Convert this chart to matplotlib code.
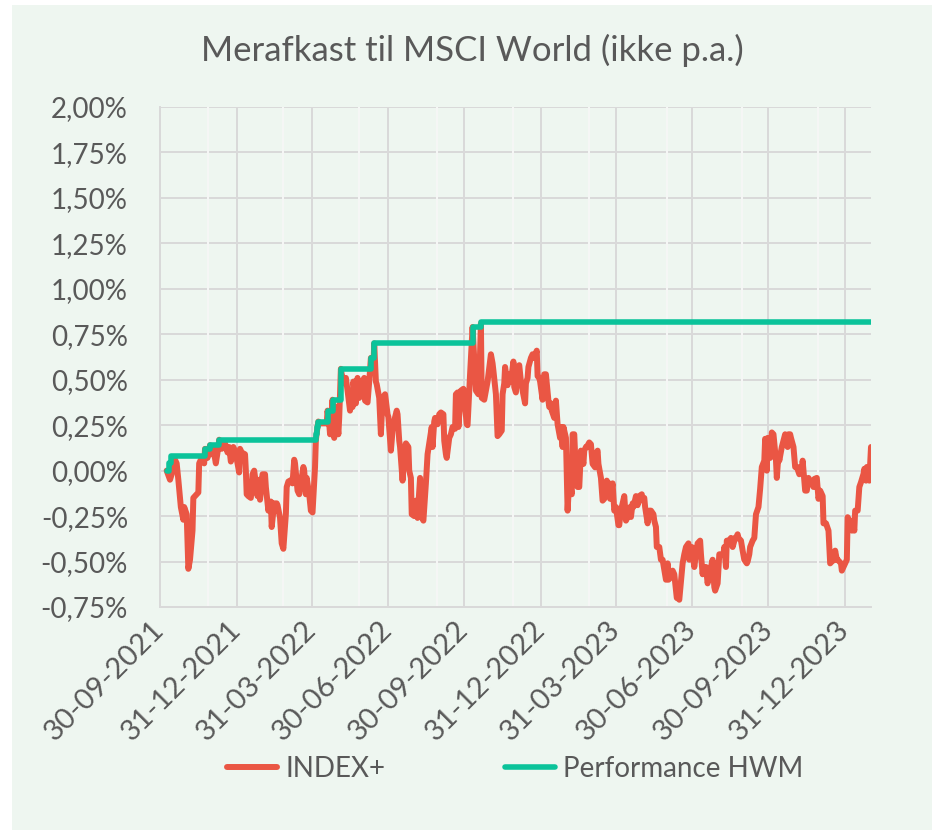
import matplotlib
matplotlib.use("Agg")
import matplotlib.pyplot as plt
import matplotlib.dates as mdates
from matplotlib.patches import Rectangle
from matplotlib.ticker import FuncFormatter, MultipleLocator
import pandas as pd

# ---------------- data (percent) ----------------
idx_dates_2021 = ["2021-10-08","2021-10-12","2021-10-14","2021-10-18","2021-10-20","2021-10-22","2021-10-25","2021-10-28",
    "2021-10-29","2021-11-01","2021-11-03","2021-11-05","2021-11-08","2021-11-09","2021-11-11","2021-11-15","2021-11-16",
    "2021-11-18","2021-11-22","2021-11-23","2021-11-26","2021-11-29","2021-11-30","2021-12-03","2021-12-06","2021-12-09",
    "2021-12-10","2021-12-13","2021-12-15","2021-12-17","2021-12-20","2021-12-22","2021-12-24","2021-12-27","2021-12-30"]
idx_vals_2021 = [0.00,-0.05,-0.02,0.06,0.04,-0.05,-0.20,-0.27,
    -0.20,-0.24,-0.54,-0.49,-0.33,-0.15,-0.14,-0.12,0.04,
    0.06,0.04,0.12,0.07,0.14,0.09,0.12,0.04,0.13,
    0.17,0.12,0.14,0.15,0.10,0.13,0.05,0.13,0.09]

idx_dates_2022 = ["2022-01-03","2022-01-04","2022-01-06","2022-01-10","2022-01-11","2022-01-12","2022-01-14","2022-01-17",
    "2022-01-19","2022-01-21","2022-01-25","2022-01-27","2022-01-28","2022-01-31","2022-02-03","2022-02-04","2022-02-07",
    "2022-02-08","2022-02-10","2022-02-11","2022-02-14","2022-02-17","2022-02-18","2022-02-21","2022-02-23","2022-02-25",
    "2022-02-28","2022-03-01","2022-03-03","2022-03-07","2022-03-08","2022-03-10","2022-03-11","2022-03-14","2022-03-16",
    "2022-03-18","2022-03-21","2022-03-22","2022-03-24","2022-03-25","2022-03-28","2022-03-30","2022-04-01","2022-04-04",
    "2022-04-05","2022-04-07","2022-04-08","2022-04-11","2022-04-13","2022-04-18","2022-04-19","2022-04-21","2022-04-22",
    "2022-04-25","2022-04-27","2022-04-29","2022-05-02","2022-05-03","2022-05-05","2022-05-06","2022-05-09","2022-05-11",
    "2022-05-13","2022-05-16","2022-05-17","2022-05-19","2022-05-20","2022-05-23","2022-05-25","2022-05-27","2022-05-30",
    "2022-05-31","2022-06-02","2022-06-03","2022-06-06","2022-06-08","2022-06-10","2022-06-13","2022-06-14","2022-06-16",
    "2022-06-17","2022-06-20","2022-06-22","2022-06-24","2022-06-27","2022-06-28","2022-06-30","2022-07-01","2022-07-04",
    "2022-07-06","2022-07-08","2022-07-11","2022-07-12","2022-07-14","2022-07-15","2022-07-18","2022-07-20","2022-07-22",
    "2022-07-25","2022-07-26","2022-07-28","2022-07-29","2022-08-01","2022-08-03","2022-08-05","2022-08-08","2022-08-09",
    "2022-08-11","2022-08-12","2022-08-15","2022-08-17","2022-08-19","2022-08-22","2022-08-23","2022-08-25","2022-08-26",
    "2022-08-29","2022-08-31","2022-09-02","2022-09-05","2022-09-06","2022-09-08","2022-09-09","2022-09-12","2022-09-14",
    "2022-09-16","2022-09-19","2022-09-20","2022-09-22","2022-09-23","2022-09-26","2022-09-29","2022-10-03","2022-10-04",
    "2022-10-06","2022-10-07","2022-10-10","2022-10-12","2022-10-14","2022-10-17","2022-10-18","2022-10-20","2022-10-21",
    "2022-10-24","2022-10-26","2022-10-28","2022-10-31","2022-11-01","2022-11-03","2022-11-04","2022-11-07","2022-11-09",
    "2022-11-11","2022-11-14","2022-11-15","2022-11-17","2022-11-18","2022-11-21","2022-11-23","2022-11-25","2022-11-28",
    "2022-11-29","2022-12-01","2022-12-02","2022-12-05","2022-12-07","2022-12-09","2022-12-12","2022-12-13","2022-12-15",
    "2022-12-16","2022-12-19","2022-12-21","2022-12-23","2022-12-26","2022-12-27","2022-12-29","2022-12-30"]
idx_vals_2022 = [-0.01,0.12,0.10,0.09,0.00,-0.13,-0.14,-0.15,
    -0.02,0.00,-0.14,-0.05,-0.16,-0.02,-0.02,-0.09,-0.22,
    -0.18,-0.17,-0.31,-0.18,-0.18,-0.19,-0.26,-0.40,-0.43,
    -0.24,-0.09,-0.06,-0.05,-0.07,0.06,0.04,-0.11,-0.13,
    -0.07,0.02,0.00,-0.13,-0.04,-0.13,-0.22,-0.23,0.02,
    0.17,0.24,0.27,0.26,0.26,0.26,0.33,0.26,0.20,
    0.39,0.18,0.35,0.20,0.29,0.56,0.53,0.48,0.51,
    0.44,0.33,0.40,0.35,0.49,0.37,0.51,0.40,0.42,
    0.49,0.51,0.385,0.375,0.49,0.62,0.57,0.70,0.49,
    0.475,0.40,0.20,0.40,0.42,0.385,0.31,0.295,0.11,
    0.22,0.275,0.33,0.31,0.165,0.13,-0.055,0.09,0.15,
    0.13,0.00,-0.04,-0.24,-0.25,-0.165,-0.26,-0.04,-0.24,
    -0.265,-0.275,-0.07,0.09,0.15,0.24,0.13,0.27,0.29,
    0.255,0.31,0.32,0.31,0.165,0.09,0.07,0.18,0.20,
    0.24,0.23,0.42,0.43,0.24,0.44,0.45,0.255,0.25,
    0.44,0.53,0.79,0.62,0.44,0.42,0.49,0.81,0.40,
    0.39,0.44,0.49,0.60,0.64,0.59,0.55,0.42,0.19,
    0.20,0.22,0.42,0.48,0.57,0.47,0.53,0.49,0.60,
    0.46,0.43,0.56,0.58,0.49,0.44,0.37,0.48,0.51,
    0.57,0.62,0.64,0.62,0.66,0.52,0.51,0.49]

idx_dates_2023 = ["2023-01-02","2023-01-04","2023-01-06","2023-01-09","2023-01-10","2023-01-12","2023-01-13","2023-01-16",
    "2023-01-18","2023-01-20","2023-01-23","2023-01-24","2023-01-26","2023-01-27","2023-01-30","2023-02-01","2023-02-03",
    "2023-02-06","2023-02-07","2023-02-09","2023-02-10","2023-02-13","2023-02-15","2023-02-17","2023-02-20","2023-02-21",
    "2023-02-23","2023-02-24","2023-02-27","2023-03-01","2023-03-03","2023-03-06","2023-03-07","2023-03-09","2023-03-10",
    "2023-03-13","2023-03-15","2023-03-17","2023-03-20","2023-03-21","2023-03-23","2023-03-24","2023-03-27","2023-03-29",
    "2023-03-31","2023-04-03","2023-04-04","2023-04-06","2023-04-07","2023-04-10","2023-04-12","2023-04-14","2023-04-17",
    "2023-04-18","2023-04-20","2023-04-21","2023-04-24","2023-04-26","2023-04-28","2023-05-01","2023-05-02","2023-05-04",
    "2023-05-05","2023-05-08","2023-05-10","2023-05-12","2023-05-15","2023-05-16","2023-05-18","2023-05-19","2023-05-22",
    "2023-05-24","2023-05-26","2023-05-30","2023-06-01","2023-06-02","2023-06-05","2023-06-07","2023-06-09","2023-06-12",
    "2023-06-13","2023-06-15","2023-06-16","2023-06-19","2023-06-21","2023-06-23","2023-06-26","2023-06-27","2023-06-29",
    "2023-06-30","2023-07-03","2023-07-05","2023-07-07","2023-07-10","2023-07-11","2023-07-13","2023-07-14","2023-07-17",
    "2023-07-19","2023-07-21","2023-07-24","2023-07-25","2023-07-27","2023-07-28","2023-07-31","2023-08-02","2023-08-04",
    "2023-08-07","2023-08-08","2023-08-10","2023-08-11","2023-08-14","2023-08-16","2023-08-18","2023-08-21","2023-08-22",
    "2023-08-24","2023-08-25","2023-08-28","2023-08-30","2023-09-01","2023-09-04","2023-09-05","2023-09-07","2023-09-08",
    "2023-09-11","2023-09-13","2023-09-15","2023-09-18","2023-09-20","2023-09-22","2023-09-25","2023-09-26","2023-09-28",
    "2023-09-29","2023-10-02","2023-10-04","2023-10-06","2023-10-09","2023-10-10","2023-10-12","2023-10-13","2023-10-16",
    "2023-10-18","2023-10-20","2023-10-23","2023-10-24","2023-10-26","2023-10-27","2023-10-30","2023-11-01","2023-11-03",
    "2023-11-06","2023-11-07","2023-11-09","2023-11-10","2023-11-13","2023-11-15","2023-11-17","2023-11-20","2023-11-21",
    "2023-11-23","2023-11-24","2023-11-27","2023-11-29","2023-12-01","2023-12-04","2023-12-05","2023-12-07","2023-12-08",
    "2023-12-11","2023-12-13","2023-12-15","2023-12-18","2023-12-19","2023-12-21","2023-12-22","2023-12-26","2023-12-27",
    "2023-12-29"]
idx_vals_2023 = [0.39,0.53,0.53,0.385,0.35,0.37,0.33,0.29,
    0.385,0.255,0.18,0.24,0.13,0.24,0.18,-0.22,-0.055,
    -0.13,0.20,0.20,0.09,-0.09,-0.09,0.11,0.037,0.11,
    0.13,0.13,0.155,0.145,0.037,0.018,0.09,0.11,0.037,
    -0.04,-0.165,-0.155,-0.055,-0.11,-0.07,-0.155,-0.07,-0.22,
    -0.20,-0.30,-0.30,-0.21,-0.20,-0.14,-0.275,-0.255,-0.20,
    -0.255,-0.18,-0.20,-0.14,-0.19,-0.14,-0.13,-0.165,-0.15,
    -0.20,-0.29,-0.22,-0.22,-0.24,-0.275,-0.31,-0.42,-0.42,
    -0.49,-0.49,-0.60,-0.51,-0.60,-0.586,-0.55,-0.57,-0.70,
    -0.70,-0.71,-0.66,-0.51,-0.46,-0.42,-0.40,-0.49,-0.46,
    -0.42,-0.53,-0.46,-0.40,-0.385,-0.46,-0.57,-0.53,-0.53,
    -0.62,-0.57,-0.51,-0.49,-0.64,-0.66,-0.62,-0.46,-0.46,
    -0.46,-0.42,-0.53,-0.385,-0.385,-0.37,-0.42,-0.37,-0.37,
    -0.35,-0.37,-0.385,-0.44,-0.49,-0.51,-0.50,-0.46,-0.42,
    -0.385,-0.37,-0.24,-0.20,-0.10,0.02,0.055,0.175,0.00,
    0.18,0.07,0.21,0.20,0.055,-0.04,0.09,0.055,0.13,
    0.165,0.20,0.13,0.20,0.20,0.18,0.13,0.02,0.02,
    -0.02,0.02,0.00,0.055,-0.11,-0.11,-0.04,-0.07,-0.064,
    -0.09,-0.046,-0.04,-0.155,-0.11,-0.14,-0.29,-0.29,-0.29,
    -0.33,-0.51,-0.50,-0.49,-0.44,-0.49,-0.49,-0.51,-0.55,
    -0.53]

idx_dates_2024 = ["2024-01-02","2024-01-03","2024-01-05","2024-01-08","2024-01-09","2024-01-11","2024-01-12","2024-01-15",
    "2024-01-17","2024-01-19","2024-01-22","2024-01-23","2024-01-25","2024-01-26","2024-01-29","2024-01-31"]
idx_vals_2024 = [-0.49,-0.256,-0.275,-0.33,-0.275,-0.33,-0.22,-0.22,
    -0.09,-0.064,-0.018,0.01,-0.055,0.02,-0.055,0.13]

hwm_dates = ["2021-10-08","2021-10-11","2021-10-13","2021-11-23","2021-11-29","2021-12-10","2022-04-05","2022-04-06",
    "2022-04-08","2022-04-19","2022-04-25","2022-05-05","2022-06-10","2022-06-14","2022-10-10","2022-10-20","2024-01-31"]
hwm_vals = [0.00,0.04,0.08,0.12,0.14,0.17,0.20,0.24,
    0.27,0.33,0.39,0.56,0.62,0.70,0.79,0.815,0.815]

quarter_ticks = ["2021-09-30","2021-12-31","2022-03-31","2022-06-30","2022-09-30","2022-12-31",
                 "2023-03-31","2023-06-30","2023-09-30","2023-12-31"]
minor_lines = ["2021-11-27","2022-02-25","2022-05-27","2022-08-28","2022-11-28","2023-02-27",
               "2023-05-31","2023-08-29","2023-11-29"]

title = "Merafkast til MSCI World (ikke p.a.)"
series_names = ["INDEX+", "Performance HWM"]

# ---------------- style ----------------
BG = "#EEF6F0"
RED = "#EA5644"
GREEN = "#0BC39A"
TXT = "#595959"
GRID = "#D9D9D9"
plt.rcParams["font.family"] = ["Lato", "DejaVu Sans"]

idx_dates = pd.to_datetime(idx_dates_2021 + idx_dates_2022 + idx_dates_2023 + idx_dates_2024)
idx_vals = idx_vals_2021 + idx_vals_2022 + idx_vals_2023 + idx_vals_2024

fig = plt.figure(figsize=(9.32, 8.30), dpi=100)
fig.patch.set_facecolor("white")
fig.add_artist(Rectangle((12/932, 0), 1 - 12/932, 1 - 5/830, transform=fig.transFigure,
                         facecolor=BG, edgecolor="none", zorder=0))

ax = fig.add_axes([160/932, 223/830, 711/932, 500/830])
ax.set_facecolor("none")

for d in minor_lines:
    ax.axvline(pd.Timestamp(d), color="#F6F7F6", lw=1.4, zorder=1.5)

ax.plot(idx_dates, idx_vals, color=RED, lw=4.3, solid_joinstyle="round",
        solid_capstyle="round", zorder=3, label=series_names[0])
ax.plot(pd.to_datetime(hwm_dates), hwm_vals, drawstyle="steps-post", color=GREEN, lw=4.0,
        solid_capstyle="round", zorder=4, label=series_names[1])

ax.set_ylim(-0.75, 2.0)
ax.yaxis.set_major_locator(MultipleLocator(0.25))
ax.yaxis.set_major_formatter(FuncFormatter(lambda v, p: f"{v:.2f}%".replace(".", ",")))
ax.set_xlim(pd.Timestamp("2021-09-30"), pd.Timestamp("2024-01-31"))
ax.set_xticks(pd.to_datetime(quarter_ticks))
ax.xaxis.set_major_formatter(mdates.DateFormatter("%d-%m-%Y"))

ax.grid(True, axis="both", color=GRID, lw=1.4, zorder=1)
ax.set_axisbelow(True)
for s in ["top", "right"]:
    ax.spines[s].set_visible(False)
for s in ["left", "bottom"]:
    ax.spines[s].set_color(GRID)
    ax.spines[s].set_linewidth(1.4)

ax.tick_params(axis="y", length=0, pad=23, labelsize=20, labelcolor=TXT)
ax.tick_params(axis="x", length=0, pad=13, labelsize=21, labelcolor=TXT)
for lab in ax.get_xticklabels():
    lab.set_rotation(45)
    lab.set_ha("right")
    lab.set_va("center")
    lab.set_rotation_mode("anchor")

fig.text(0.507, 1 - 50/830, title, ha="center", va="center", fontsize=25, color=TXT)

leg = fig.legend(loc="center", bbox_to_anchor=(515/932, 61/830), ncol=2, frameon=False,
                 fontsize=20, handlelength=1.8, columnspacing=4.3, handletextpad=0.3)
for t in leg.get_texts():
    t.set_color(TXT)

fig.savefig("out.png", dpi=100, facecolor=fig.get_facecolor())
